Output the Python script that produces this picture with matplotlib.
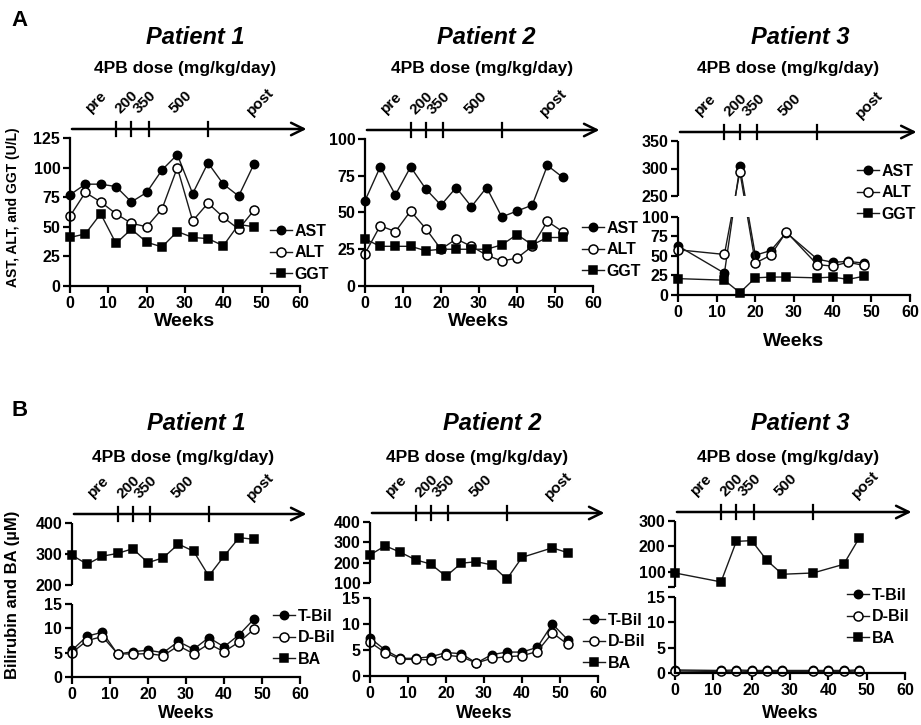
import numpy as np
import matplotlib
matplotlib.use('Agg')
import matplotlib.pyplot as plt

plt.rcParams['font.family'] = ['Liberation Sans', 'DejaVu Sans']
plt.rcParams['font.weight'] = 'bold'

W, H = 921, 725

# ---------------- data ----------------
weeks_p1 = [0, 4, 8, 12, 16, 20, 24, 28, 32, 36, 40, 44, 48]
weeks_p2 = [0, 4, 8, 12, 16, 20, 24, 28, 32, 36, 40, 44, 48, 52]
weeks_p3 = [0, 12, 16, 20, 24, 28, 36, 40, 44, 48]

# A: liver enzymes (U/L)
ast_p1 = [77, 86, 86, 84, 71, 79, 98, 111, 78, 104, 86, 76, 103]
alt_p1 = [59, 79, 71, 61, 53, 50, 65, 100, 55, 70, 58, 48, 64]
ggt_p1 = [41, 44, 61, 36, 48, 37, 33, 46, 41, 40, 34, 52, 50]

ast_p2 = [58, 81, 62, 81, 66, 55, 67, 54, 67, 47, 51, 55, 82, 74]
alt_p2 = [22, 41, 37, 51, 39, 25, 32, 27, 21, 17, 19, 27, 44, 37]
ggt_p2 = [32, 27, 27, 27, 24, 25, 25, 25, 25, 28, 35, 28, 33, 33]

ast_p3 = [63, 28, 304, 51, 57, 80, 46, 42, 43, 41]
alt_p3 = [58, 52, 294, 41, 51, 81, 39, 37, 42, 38]
ggt_p3 = [21, 19, 3, 22, 23, 23, 22, 23, 20, 24]

# B: bilirubin and bile acids (uM)
tbil_p1 = [5.5, 8.4, 9.2, 4.7, 5.2, 5.5, 5.0, 7.3, 5.7, 8.1, 6.2, 8.7, 12.0]
dbil_p1 = [5.0, 7.5, 8.3, 4.8, 4.7, 4.8, 4.4, 6.4, 4.8, 6.8, 5.2, 7.2, 9.9]
ba_p1 = [296, 267, 293, 302, 317, 272, 288, 332, 309, 229, 293, 353, 347]

tbil_p2 = [7.3, 5.0, 3.4, 3.4, 3.7, 4.5, 4.3, 2.5, 4.1, 4.6, 4.6, 5.5, 10.0, 7.0]
dbil_p2 = [6.5, 4.5, 3.2, 3.2, 3.1, 4.0, 3.7, 2.5, 3.4, 3.7, 3.9, 4.7, 8.3, 6.1]
ba_weeks_p2 = [0, 4, 8, 12, 16, 20, 24, 28, 32, 36, 40, 48, 52]
ba_p2 = [238, 283, 251, 214, 193, 133, 197, 205, 189, 119, 226, 273, 249]

tbil_p3 = [0.6, 0.5, 0.6, 0.5, 0.5, 0.5, 0.5, 0.5, 0.5, 0.6]
dbil_p3 = [0.4, 0.3, 0.4, 0.3, 0.3, 0.3, 0.3, 0.3, 0.3, 0.4]
ba_weeks_p3 = [0, 12, 16, 20, 24, 28, 36, 44, 48]
ba_p3 = [96, 61, 220, 223, 145, 91, 96, 130, 232]

# 4PB dosing schedule
dose_ticks = [12, 16, 20.5, 36]
dose_labels = ['pre', '200', '350', '500', 'post']
dose_label_weeks = [7, 14.8, 19.5, 29, 49.6]

fig = plt.figure(figsize=(W / 100, H / 100), dpi=100)


def ftext(x, y, s, **kw):
    fig.text(x / W, 1 - y / H, s, **kw)


def make_scale(l0, l1, u0, u1, h_lo, h_gap, h_up):
    ys = np.array([l0, l1, u0, u1], float)
    ps = np.array([0, h_lo, h_lo + h_gap, h_lo + h_gap + h_up], float)

    def fwd(y):
        y = np.asarray(y, float)
        out = np.interp(y, ys, ps)
        out = np.where(y < l0, (y - l0) * h_lo / (l1 - l0), out)
        out = np.where(y > u1, ps[-1] + (y - u1) * h_up / (u1 - u0), out)
        return out

    def inv(p):
        p = np.asarray(p, float)
        out = np.interp(p, ps, ys)
        out = np.where(p < 0, l0 + p * (l1 - l0) / h_lo, out)
        out = np.where(p > ps[-1], u1 + (p - ps[-1]) * (u1 - u0) / h_up, out)
        return out
    return fwd, inv


def panel(rect, series, yticks, legend_xy, ylim=None, broken=None, mask=False,
          end_tick=False):
    x0, x1, top, bot = rect
    hpx = bot - top
    ax = fig.add_axes([x0 / W, 1 - bot / H, (x1 - x0) / W, hpx / H])
    for wk, vals, lab, mk, fc, ms in series:
        ax.plot(wk, vals, color='#1a1a1a', lw=1.0, marker=mk, ms=ms, mfc=fc,
                mec='black', mew=1.1, label=lab, clip_on=False, zorder=2)
    ax.set_xlim(0, 60)
    ax.set_xticks(range(0, 61, 10))
    if broken:
        l0, l1, u0, u1, hl, hg, hu = broken
        ax.set_yscale('function', functions=make_scale(l0, l1, u0, u1, hl, hg, hu))
        ax.set_ylim(l0, u1)
        ax.spines['left'].set_visible(False)
        for a, b in [(l0, l1), (u0, u1)]:
            ax.plot([0, 0], [a, b], transform=ax.get_yaxis_transform(), color='black',
                    lw=1.6, clip_on=False, solid_capstyle='butt', zorder=3)
        if mask:
            ax.axhspan(l1, u0, color='white', lw=0, zorder=2.5)
    else:
        ax.set_ylim(*ylim)
        ax.spines['left'].set_linewidth(1.6)
    ax.set_yticks(yticks)
    ax.minorticks_off()
    if broken and end_tick:
        ax.set_yticks([broken[2]], minor=True)
        ax.tick_params(axis='y', which='minor', direction='out', length=5, width=1.6)
    ax.spines['top'].set_visible(False)
    ax.spines['right'].set_visible(False)
    ax.spines['bottom'].set_linewidth(1.6)
    ax.tick_params(direction='out', length=5, width=1.6, labelsize=11.5, pad=2)

    # dose arrow above the plot
    trans = ax.get_xaxis_transform()
    ya = 1 + 9 / hpx
    ax.annotate('', xy=(61.7, ya), xytext=(0.5, ya), xycoords=trans, textcoords=trans,
                arrowprops=dict(arrowstyle='->,head_length=0.65,head_width=0.32', lw=1.8,
                                color='black', mutation_scale=14, shrinkA=0, shrinkB=0),
                annotation_clip=False)
    for d in dose_ticks:
        ax.plot([d, d], [ya - 7 / hpx, ya + 7 / hpx], transform=trans, color='black',
                lw=1.6, clip_on=False)
    for lab, wk in zip(dose_labels, dose_label_weeks):
        ax.annotate(lab, xy=(wk, ya), xycoords=trans, xytext=(0, 19.5),
                    textcoords='offset points', rotation=45, ha='center', va='center',
                    fontsize=11, annotation_clip=False)

    lx, ly = legend_xy
    ax.legend(loc='upper left', bbox_to_anchor=(lx / W, 1 - ly / H),
              bbox_transform=fig.transFigure, frameon=False, fontsize=11.5,
              handlelength=1.4, handletextpad=0.15, labelspacing=0.4,
              borderpad=0, borderaxespad=0)
    return ax


def enzyme_series(wk, ast, alt, ggt):
    return [(wk, ast, 'AST', 'o', 'black', 6),
            (wk, alt, 'ALT', 'o', 'white', 6.5),
            (wk, ggt, 'GGT', 's', 'black', 5.5)]


def bil_series(wk, tb, db, bwk, ba):
    return [(wk, tb, 'T-Bil', 'o', 'black', 6),
            (wk, db, 'D-Bil', 'o', 'white', 6.5),
            (bwk, ba, 'BA', 's', 'black', 5.5)]


# ---------------- panel A ----------------
panel((70, 300, 138, 286), enzyme_series(weeks_p1, ast_p1, alt_p1, ggt_p1),
      [0, 25, 50, 75, 100, 125], (270, 224), ylim=(0, 125))
panel((365, 593, 139, 286), enzyme_series(weeks_p2, ast_p2, alt_p2, ggt_p2),
      [0, 25, 50, 75, 100], (582, 221), ylim=(0, 100))
panel((678, 910, 141, 295), enzyme_series(weeks_p3, ast_p3, alt_p3, ggt_p3),
      [0, 25, 50, 75, 100, 250, 300, 350], (857, 164),
      broken=(0, 100, 250, 350, 78, 21, 55), mask=True)

# ---------------- panel B ----------------
panel((72, 300, 523, 677), bil_series(weeks_p1, tbil_p1, dbil_p1, weeks_p1, ba_p1),
      [0, 5, 10, 15, 200, 300, 400], (273, 609),
      broken=(0, 15, 200, 400, 73, 19, 62))
panel((370, 598, 522, 676), bil_series(weeks_p2, tbil_p2, dbil_p2, ba_weeks_p2, ba_p2),
      [0, 5, 10, 15, 100, 200, 300, 400], (583, 613),
      broken=(0, 15, 100, 400, 78, 15, 61))
panel((675, 905, 521, 673), bil_series(weeks_p3, tbil_p3, dbil_p3, ba_weeks_p3, ba_p3),
      [0, 5, 10, 15, 100, 200, 300], (847, 588),
      broken=(0, 15, 41, 300, 76, 10, 66), end_tick=True)

# ---------------- texts ----------------
ftext(20, 20, 'A', fontsize=16, ha='center', va='center')
ftext(20, 410, 'B', fontsize=16, ha='center', va='center')

for cx, name in [(195, 'Patient 1'), (486, 'Patient 2'), (800, 'Patient 3')]:
    ftext(cx, 38, name, fontsize=17, style='italic', ha='center', va='center')
for cx in [185, 482, 788]:
    ftext(cx, 68, '4PB dose (mg/kg/day)', fontsize=12.5, ha='center', va='center')
for cx, name in [(196, 'Patient 1'), (492, 'Patient 2'), (800, 'Patient 3')]:
    ftext(cx, 423, name, fontsize=17, style='italic', ha='center', va='center')
for cx in [183, 477, 788]:
    ftext(cx, 458, '4PB dose (mg/kg/day)', fontsize=12.5, ha='center', va='center')

for cx, cy in [(185, 321), (479, 321), (794, 341)]:
    ftext(cx, cy, 'Weeks', fontsize=14, ha='center', va='center')
for cx in [186, 484, 790]:
    ftext(cx, 714, 'Weeks', fontsize=13, ha='center', va='center')

ftext(13, 207, 'AST, ALT, and GGT (U/L)', rotation=90, fontsize=10, ha='center', va='center')
ftext(13, 595, 'Bilirubin and BA (\u00b5M)', rotation=90, fontsize=12, ha='center', va='center')

fig.savefig('out.png', dpi=100)
